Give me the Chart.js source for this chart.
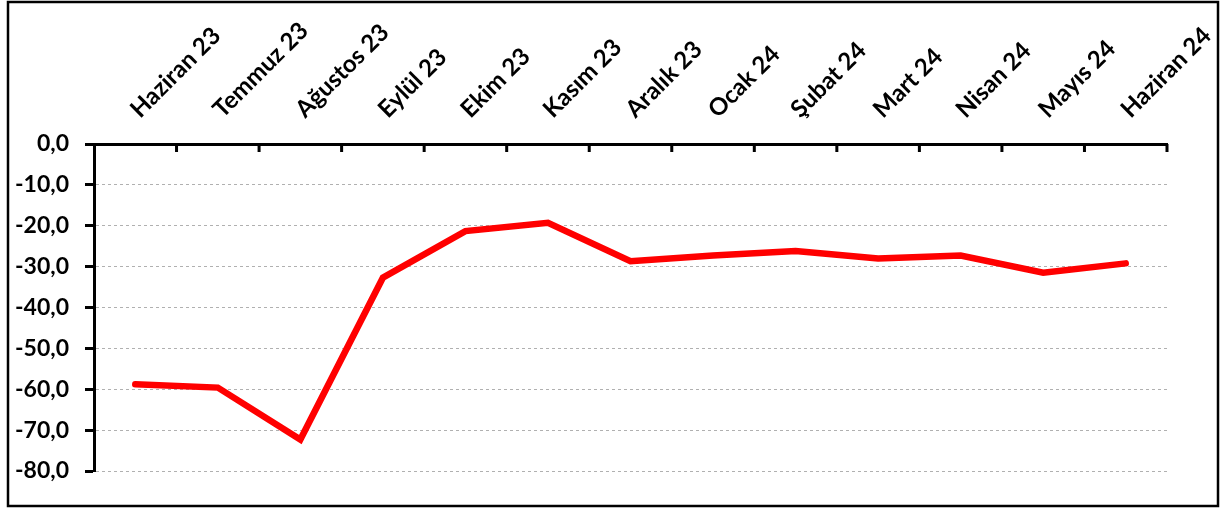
<!DOCTYPE html>
<html>
<head>
<meta charset="utf-8">
<script src="https://cdn.jsdelivr.net/npm/chart.js@4/dist/chart.umd.min.js"></script>
<style>
  html, body { margin: 0; padding: 0; background: #fff; }
  #wrap { position: relative; width: 1223px; height: 508px; }
</style>
</head>
<body>
<div id="wrap"><canvas id="lineChart" width="1223" height="508"></canvas></div>
<script>
const months = [
  "Haziran 23", "Temmuz 23", "Ağustos 23", "Eylül 23", "Ekim 23", "Kasım 23",
  "Aralık 23", "Ocak 24", "Şubat 24", "Mart 24", "Nisan 24", "Mayıs 24", "Haziran 24"
];
const values = [-58.8, -59.6, -72.3, -32.7, -21.3, -19.3, -28.7, -27.3, -26.2, -28.0, -27.3, -31.5, -29.2];
const yMin = -80;
const yMax = 0;
const yStep = 10;

const LABEL_FONT = "bold 24px Lato";

// outer frame round the whole chart
const framePlugin = {
  id: "frame",
  afterDraw(chart) {
    const ctx = chart.ctx;
    ctx.save();
    ctx.strokeStyle = "#000";
    ctx.lineWidth = 2.5;
    ctx.strokeRect(8, 2, 1210, 504);
    ctx.restore();
  },
};

// short tick marks pointing down into the plot, between categories,
// and the slanted month labels above the top axis (Excel style)
const topAxisPlugin = {
  id: "topAxis",
  afterDatasetsDraw(chart) {
    const x = chart.scales.x;
    const top = chart.chartArea.top;
    const ctx = chart.ctx;
    ctx.save();
    ctx.strokeStyle = "#000";
    ctx.lineWidth = 3;
    ctx.beginPath();
    for (let i = 0; i < months.length; i++) {
      const edge = i < months.length - 1
        ? (x.getPixelForValue(i) + x.getPixelForValue(i + 1)) / 2
        : chart.chartArea.right;
      ctx.moveTo(edge, top);
      ctx.lineTo(edge, top + 8);
    }
    ctx.stroke();

    ctx.fillStyle = "#000";
    ctx.font = LABEL_FONT;
    ctx.textAlign = "left";
    ctx.textBaseline = "alphabetic";
    months.forEach((m, i) => {
      ctx.save();
      ctx.translate(x.getPixelForValue(i) + 5, top - 25);
      ctx.rotate(-Math.PI / 4);
      ctx.fillText(m, 0, 0);
      ctx.restore();
    });
    ctx.restore();
  },
};

new Chart(document.getElementById("lineChart").getContext("2d"), {
  type: "line",
  data: {
    labels: months,
    datasets: [
      {
        data: values,
        borderColor: "#ff0000",
        borderWidth: 6.5,
        borderCapStyle: "round",
        tension: 0,
        pointRadius: 0,
      },
    ],
  },
  options: {
    responsive: false,
    animation: false,
    layout: { padding: { left: 0, right: 56, top: 0, bottom: 37 } },
    plugins: { legend: { display: false }, tooltip: { enabled: false } },
    scales: {
      x: {
        position: "top",
        offset: true,
        afterFit: (scale) => { scale.height = 144; },
        grid: { display: true, drawOnChartArea: false, drawTicks: false },
        border: { display: true, color: "#000", width: 3 },
        ticks: { display: false, autoSkip: false },
      },
      y: {
        min: yMin,
        max: yMax,
        afterFit: (scale) => { scale.width = 94; },
        grid: {
          color: "#b0b0b0",
          lineWidth: 1,
          tickColor: "#000",
          tickWidth: 3,
          tickLength: 9,
          tickBorderDash: [],
        },
        border: { display: true, color: "#000", width: 3, dash: [3, 3] },
        ticks: {
          stepSize: yStep,
          padding: 16,
          color: "#000",
          font: { family: "Lato", weight: "bold", size: 23 },
          callback: (v) => v.toFixed(1).replace(".", ","),
        },
      },
    },
  },
  plugins: [framePlugin, topAxisPlugin],
});
</script>
</body>
</html>
